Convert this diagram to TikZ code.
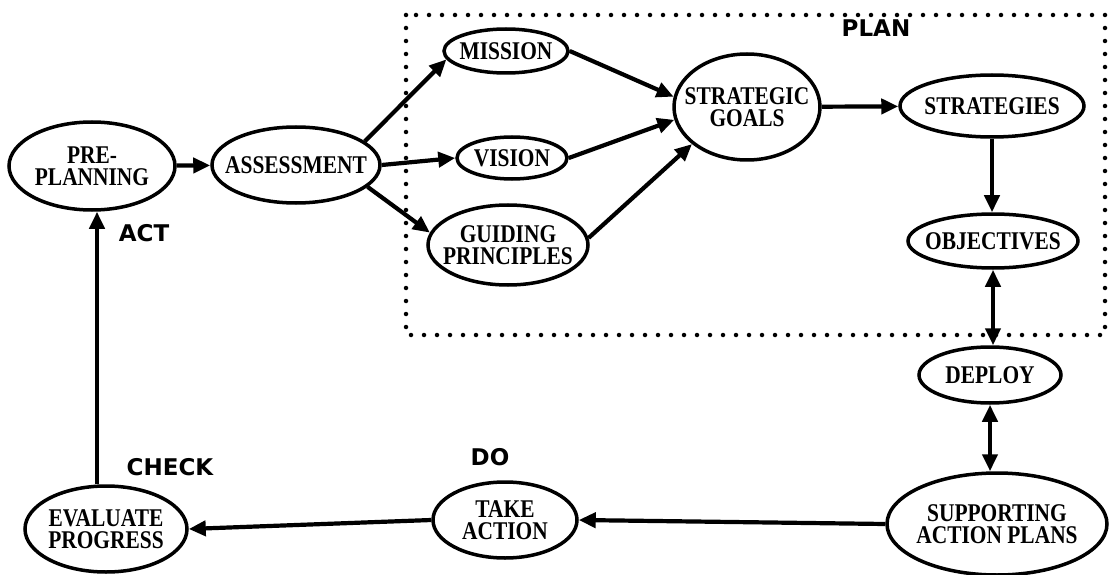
\documentclass[tikz,border=0pt]{standalone}
\usepackage{fontspec}
\usepackage{graphicx}
\setmainfont{Liberation Serif}
\newfontfamily\heavyfont{DejaVu Sans}
\usetikzlibrary{shapes.geometric,arrows.meta}
% condensed capitals used inside the ovals
\newcommand\sq[1]{\scalebox{0.84}[1]{#1}}
\begin{document}
\begin{tikzpicture}[x=1pt,y=-1pt,
  oval/.style={draw,ellipse,line width=3.5pt,inner sep=-40pt,
    font=\fontsize{25.5}{22}\selectfont\bfseries,align=center},
  conn/.style={line width=4.2pt,-{Triangle[length=17pt,width=15pt]}},
  both/.style={line width=4.2pt,{Triangle[length=17pt,width=15pt]}-{Triangle[length=17pt,width=15pt]}},
  phase/.style={font=\fontsize{23}{23}\selectfont\heavyfont\bfseries,inner sep=0pt},
  frame/.style={line width=4.5pt,line cap=round,dash pattern=on 0pt off 13pt}]

\useasboundingbox[fill=white] (0,0) rectangle (1109,575);

% PLAN region
\coordinate (fr1) at (406,15);
\coordinate (fr2) at (1105,335);
\draw[frame] (fr1) rectangle (fr2);

% ovals
\node[oval,minimum width=166pt,minimum height=88pt] (pre) at (92,166) {\sq{PRE-}\\\sq{PLANNING}};
\node[oval,minimum width=168pt,minimum height=76pt] (assess) at (296,165) {\sq{ASSESSMENT}};
\node[oval,minimum width=124pt,minimum height=44pt] (mission) at (506,51) {\sq{MISSION}};
\node[oval,minimum width=110pt,minimum height=42pt] (vision) at (512,158) {\sq{VISION}};
\node[oval,minimum width=160pt,minimum height=80pt] (guiding) at (508,245) {\sq{GUIDING}\\\sq{PRINCIPLES}};
\node[oval,minimum width=146pt,minimum height=106pt] (sg) at (747,107) {\sq{STRATEGIC}\\\sq{GOALS}};
\node[oval,minimum width=184pt,minimum height=62pt] (strat) at (992,106) {\sq{STRATEGIES}};
\node[oval,minimum width=170pt,minimum height=54pt] (obj) at (993,241) {\sq{OBJECTIVES}};
\node[oval,minimum width=142pt,minimum height=56pt] (deploy) at (990,375) {\sq{DEPLOY}};
\node[oval,minimum width=220pt,minimum height=102pt] (sap) at (997,524) {\sq{SUPPORTING}\\\sq{ACTION PLANS}};
\node[oval,minimum width=144pt,minimum height=76pt] (take) at (505,520) {\sq{TAKE}\\\sq{ACTION}};
\node[oval,minimum width=162pt,minimum height=86pt] (eval) at (106,529) {\sq{EVALUATE}\\\sq{PROGRESS}};

% phase labels
\node[phase] (plan) at (876,28) {PLAN};
\node[phase] (act) at (144,233) {ACT};
\node[phase] (check) at (170,467) {CHECK};
\node[phase] (do) at (490,457) {DO};

% connectors
\draw[conn] (pre) -- (assess);
\draw[conn] (assess.19) -- (mission.188);
\draw[conn] (assess.east) -- (vision.west);
\draw[conn] (assess.-17) -- (guiding.171);
\draw[conn] (mission.east) -- (sg.172);
\draw[conn] (vision.east) -- (sg.190);
\draw[conn] (guiding.5) -- (sg.214);
\draw[conn] (sg) -- (strat);
\draw[conn] (strat.south) -- (strat.south |- obj.north);
\draw[both] (obj.south) -- (obj.south |- deploy.north);
\draw[both] (deploy.south) -- (deploy.south |- sap.north);
\draw[conn] (sap.west) -- (take.east);
\draw[conn] (take.west) -- (eval.east);
\draw[conn] ([xshift=5pt]pre.south |- eval.north) -- ([xshift=5pt]pre.south);
\end{tikzpicture}
\end{document}
